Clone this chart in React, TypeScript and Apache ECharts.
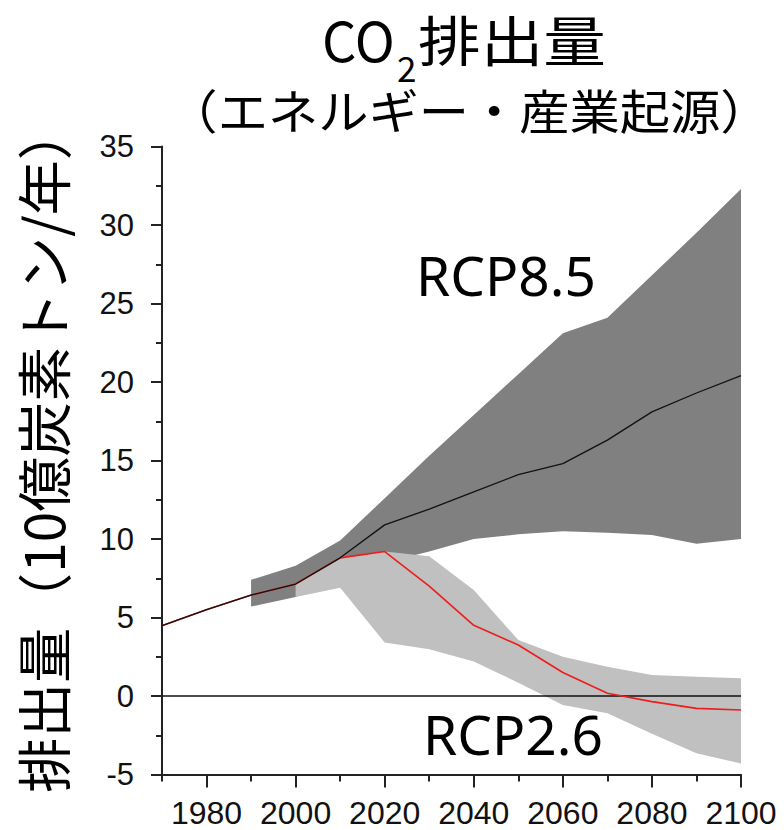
import React, { useEffect, useRef } from "react";
import * as echarts from "echarts";

// ---- data ----
const years = [1970, 1980, 1990, 2000, 2010, 2020, 2030, 2040, 2050, 2060, 2070, 2080, 2090, 2100];
const rcp85Mean = [4.48, 5.5, 6.43, 7.13, 8.8, 10.9, 11.9, 13.0, 14.1, 14.8, 16.3, 18.1, 19.3, 20.4];
const rcp26Mean = [4.48, 5.5, 6.43, 7.13, 8.8, 9.2, 7.0, 4.5, 3.25, 1.5, 0.17, -0.36, -0.79, -0.89];

const band85Years = [1990, 2000, 2010, 2020, 2030, 2040, 2050, 2060, 2070, 2080, 2090, 2100];
const band85High = [7.4, 8.3, 9.9, 12.6, 15.3, 17.9, 20.5, 23.1, 24.1, 26.8, 29.5, 32.3];
const band85Low = [5.7, 6.3, 7.5, 8.5, 9.2, 10.0, 10.3, 10.5, 10.4, 10.25, 9.7, 10.0];

const band26Years = [2000, 2010, 2020, 2030, 2040, 2050, 2060, 2070, 2080, 2090, 2100];
const band26High = [7.13, 8.8, 9.2, 8.9, 6.75, 3.57, 2.5, 1.87, 1.34, 1.23, 1.13];
const band26Low = [6.3, 6.9, 3.4, 2.97, 2.2, 0.85, -0.57, -1.1, -2.4, -3.65, -4.3];

const xLabelYears = [1980, 2000, 2020, 2040, 2060, 2080, 2100];
const xMinorYears = [1970, 1990, 2010, 2030, 2050, 2070, 2090];

const titleMain = "排出量";
const titleSub = "（エネルギー・産業起源）";
const yName = "排出量（10億炭素トン/年）";

function bandSeries(name: string, xs: number[], hi: number[], lo: number[], color: string) {
  return {
    type: "custom",
    name,
    data: xs.map((x, i) => [x, lo[i], hi[i]]),
    renderItem: (params: any, api: any) => {
      if (params.dataIndex !== 0) return null;
      const pts: number[][] = [];
      for (let i = 0; i < xs.length; i++) pts.push(api.coord([xs[i], hi[i]]));
      for (let i = xs.length - 1; i >= 0; i--) pts.push(api.coord([xs[i], lo[i]]));
      return {
        type: "polygon",
        shape: { points: pts },
        style: { fill: color, stroke: "none" },
      };
    },
    silent: true,
  };
}

export default function App() {
  const ref = useRef<HTMLDivElement>(null);
  useEffect(() => {
    document.body.style.margin = "0";
    const chart = echarts.init(ref.current!, undefined, { renderer: "svg" });
    const axisColor = "#222";
    const latin = "'Liberation Sans', Arial, sans-serif";
    const cjk = "'Noto Sans CJK JP', sans-serif";
    chart.setOption({
      animation: false,
      backgroundColor: "#fff",
      grid: { left: 162, right: 43, top: 146.5, bottom: 55.5 },
      xAxis: [
        {
          type: "value",
          min: 1970,
          max: 2100,
          position: "bottom",
          axisLine: { show: true, onZero: false, lineStyle: { color: axisColor, width: 2 } },
          axisTick: { show: true, customValues: xLabelYears, length: 13, lineStyle: { color: axisColor, width: 2 } },
          axisLabel: {
            customValues: xLabelYears,
            formatter: (v: number) => String(v),
            fontSize: 32,
            color: "#111",
            margin: 22,
            fontFamily: latin,
          },
          splitLine: { show: false },
        },
        {
          type: "value",
          min: 1970,
          max: 2100,
          position: "bottom",
          axisLine: { show: false, onZero: false },
          axisTick: { show: true, customValues: xMinorYears, length: 7, lineStyle: { color: axisColor, width: 2 } },
          axisLabel: { show: false },
          splitLine: { show: false },
        },
      ],
      yAxis: {
        type: "value",
        min: -5,
        max: 35,
        interval: 5,
        axisLine: { show: true, onZero: false, lineStyle: { color: axisColor, width: 2 } },
        axisTick: { show: true, length: 11, lineStyle: { color: axisColor, width: 2 } },
        minorTick: { show: true, splitNumber: 2, length: 6, lineStyle: { color: axisColor, width: 2 } },
        axisLabel: { fontSize: 31, color: "#111", margin: 28, fontFamily: latin },
        splitLine: { show: false },
        minorSplitLine: { show: false },
      },
      series: [
        bandSeries("RCP8.5 range", band85Years, band85High, band85Low, "#808080"),
        bandSeries("RCP2.6 range", band26Years, band26High, band26Low, "#c0c0c0"),
        {
          type: "line",
          name: "zero",
          data: [[1970, 0], [2100, 0]],
          symbol: "none",
          lineStyle: { color: "#111", width: 1.6 },
          silent: true,
        },
        {
          type: "line",
          name: "RCP2.6",
          data: years.map((y, i) => [y, rcp26Mean[i]]),
          symbol: "none",
          lineStyle: { color: "#ee1c1c", width: 1.6 },
        },
        {
          type: "line",
          name: "RCP8.5",
          data: years.map((y, i) => [y, rcp85Mean[i]]),
          symbol: "none",
          lineStyle: { color: "#111", width: 1.3 },
        },
      ],
      graphic: [
        { type: "text", x: 322, y: 38, style: { text: "CO", font: `54px ${cjk}`, fill: "#000", textAlign: "left", textVerticalAlign: "middle" } },
        { type: "text", x: 397, y: 66, style: { text: "2", font: `35px ${cjk}`, fill: "#000", textAlign: "left", textVerticalAlign: "middle" } },
        { type: "text", x: 418, y: 38, scaleX: 1.16, style: { text: titleMain, font: `54px ${cjk}`, fill: "#000", textAlign: "left", textVerticalAlign: "middle" } },
        { type: "text", x: 469, y: 109, scaleX: 1.07, style: { text: titleSub, font: `47px ${cjk}`, fill: "#000", textAlign: "center", textVerticalAlign: "middle" } },
        { type: "text", x: 41, y: 449, rotation: Math.PI / 2, style: { text: yName, font: `55px ${cjk}`, fill: "#000", textAlign: "center", textVerticalAlign: "middle" } },
        { type: "text", x: 506, y: 274, style: { text: "RCP8.5", font: `55px 'Noto Sans', sans-serif`, fill: "#000", textAlign: "center", textVerticalAlign: "middle" } },
        { type: "text", x: 513, y: 733, style: { text: "RCP2.6", font: `55px 'Noto Sans', sans-serif`, fill: "#000", textAlign: "center", textVerticalAlign: "middle" } },
      ],
    });
    return () => chart.dispose();
  }, []);
  return <div ref={ref} style={{ width: 784, height: 830 }} />;
}
